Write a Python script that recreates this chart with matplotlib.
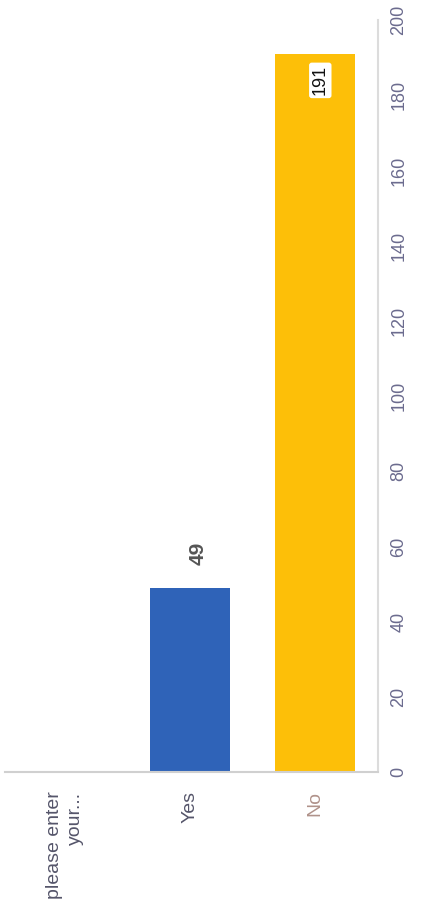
import matplotlib.pyplot as plt

# survey answers and counts
categories = ["please enter\nyour...", "Yes", "No"]
counts = [0, 49, 191]
bar_colors = ["#2f63b8", "#2f63b8", "#fdbf08"]
value_ticks = [0, 20, 40, 60, 80, 100, 120, 140, 160, 180, 200]

plt.rcParams["font.family"] = ["Liberation Sans", "DejaVu Sans"]

fig = plt.figure(figsize=(4.25, 9.19), dpi=100)
ax = fig.add_axes([0.012, 0.16, 0.877, 0.818])

x = list(range(len(categories)))
ax.bar(x, counts, width=0.64, color=bar_colors)

ax.set_xlim(-0.48, 2.5)
ax.set_ylim(0, 200)

# value axis on the right, labels turned like the scan
ax.yaxis.tick_right()
ax.set_yticks(value_ticks)
ax.set_yticklabels([str(v) for v in value_ticks], rotation=90, va="center",
                   fontsize=13, color="#6b6b8e")
ax.tick_params(axis="y", length=0, pad=9)

ax.set_xticks(x)
ax.set_xticklabels(categories, rotation=90, fontsize=14, color="#55556a",
                   multialignment="right", linespacing=1.35)
ax.tick_params(axis="x", length=0, pad=14)
ax.get_xticklabels()[2].set_color("#b0928a")

for side in ["left", "top"]:
    ax.spines[side].set_visible(False)
ax.spines["right"].set_color("#dcdcdc")
ax.spines["right"].set_linewidth(1.5)
ax.spines["bottom"].set_color("#d0d0d0")
ax.spines["bottom"].set_linewidth(1.5)

# value labels
ax.text(1.06, counts[1] + 6, str(counts[1]), rotation=90, ha="center", va="bottom",
        fontsize=15, fontweight="bold", color="#555555")
ax.text(2.04, counts[2] - 3, str(counts[2]), rotation=90, ha="center", va="top",
        fontsize=13, color="#111111",
        bbox=dict(boxstyle="round,pad=0.15", fc="white", ec="none"))

fig.savefig("out.png", dpi=100)
